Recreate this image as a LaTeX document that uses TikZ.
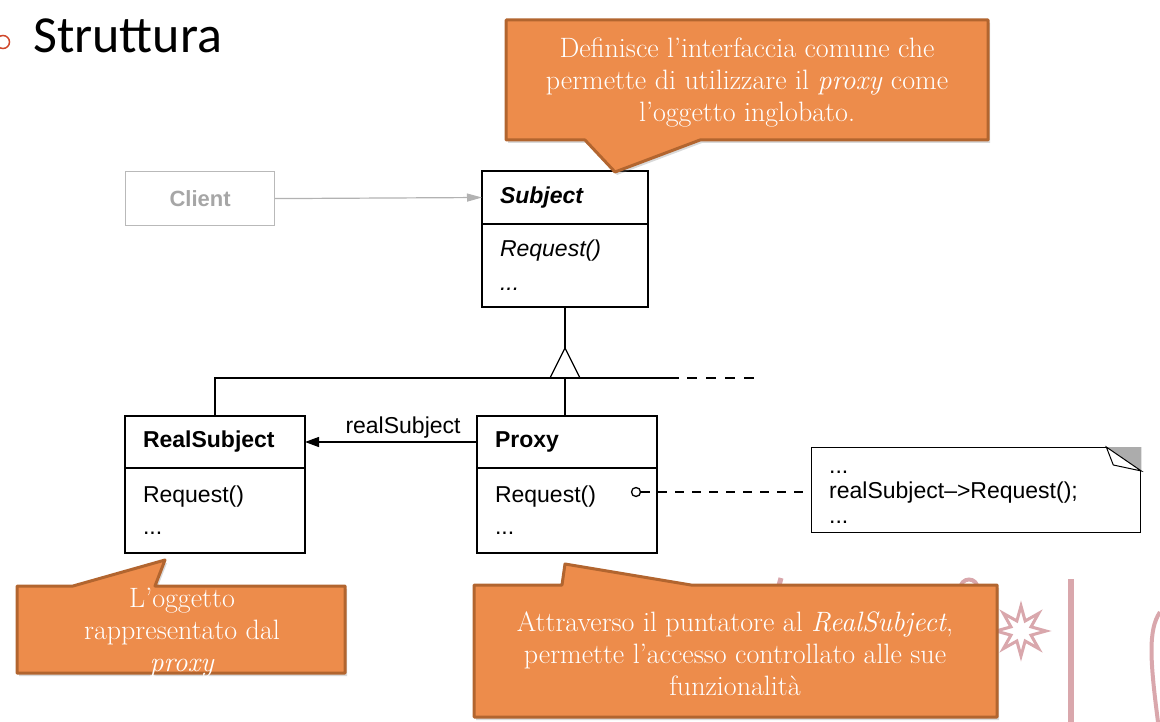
\documentclass[tikz,border=0pt]{standalone}
\usepackage{fontspec}
\newfontfamily\umlfont{Liberation Sans}
\newfontfamily\titlefont{Carlito}
\usetikzlibrary{calc,arrows.meta,shadows,shapes.geometric}
\definecolor{callorange}{HTML}{ED8C4B}
\definecolor{callborder}{HTML}{B2652F}
\definecolor{deco}{HTML}{D9A7AC}
\definecolor{bullet}{HTML}{D0462A}

\begin{document}
\begin{tikzpicture}[x=1pt,y=-1pt]
       \tikzstyle{umlline} = [line width=1.3pt];
       \tikzstyle{classhead} = [draw, umlline, anchor=north west, outer sep=0pt, inner xsep=18pt, align=left, minimum height=53pt, font=\umlfont\fontsize{23}{32}\selectfont\bfseries];
       \tikzstyle{classbody} = [draw, umlline, anchor=north west, outer sep=0pt, inner xsep=18pt, align=left, font=\umlfont\fontsize{23}{32}\selectfont];
       \tikzstyle{callout} = [fill=callorange, draw=callborder, line width=3pt, line join=round, drop shadow={shadow xshift=2pt, shadow yshift=-3pt, opacity=.3}];
       \tikzstyle{callouttext} = [text=white, align=center, font=\fontsize{28}{32}\selectfont];
       \useasboundingbox (0,0) rectangle (1160,722);

       % title
       \node[circle, draw=bullet, line width=1.5pt, minimum size=13pt, inner sep=0pt] (dot) at (3,42) {};
       \node[anchor=base west, inner sep=0pt, font=\titlefont\fontsize{52}{60}\selectfont] (title) at (33,53) {Struttura};

       % background marks
       \draw[deco, line width=6pt] (1071,579) -- (1071,722);
       \draw[deco, line width=4pt] (960,590) .. controls (960,576) and (978,576) .. (978,590);
       \draw[deco, line width=5pt] (781,578) -- (775,600);
       \draw[deco, line width=4pt] (1160,612) .. controls (1148,630) and (1150,660) .. (1158,722);
       \node[star, star points=8, star point ratio=2.3, minimum size=50pt, inner sep=0pt, draw=deco, line width=3pt, fill=white] (spark) at (1021,631) {};

       % classes
       \node[draw=gray!55, line width=1.2pt, anchor=north west, minimum width=149pt, minimum height=54pt, text=gray!70, font=\umlfont\fontsize{22}{26}\selectfont\bfseries] (client) at (125,171) {Client};
       \node[classhead, text width=130pt] (subject) at (482,171) {\itshape Subject};
       \node[classbody, text width=130pt, minimum height=83pt] (subjectbody) at (subject.south west) {\itshape Request()\\[2pt]...};
       \node[classhead, text width=144pt, minimum height=52pt] (realsubject) at (125,416) {RealSubject};
       \node[classbody, text width=144pt, minimum height=85pt] (realbody) at (realsubject.south west) {Request()\\...};
       \node[classhead, text width=144pt, minimum height=52pt] (proxy) at (477,416) {Proxy};
       \node[classbody, text width=144pt, minimum height=85pt] (proxybody) at (proxy.south west) {Request()\\...};
       \node[draw, umlline, anchor=north west, minimum width=329pt, minimum height=85pt] (note) at (811,447) {};
       \node[anchor=west, inner xsep=18pt, align=left, font=\umlfont\fontsize{23}{25}\selectfont] (notetext) at ($(note.west)+(0,7)$) {...\\realSubject–>Request();\\...};
       \fill[gray!65] ($(note.north east)+(-35,0)$) -- (note.north east) -- ($(note.north east)+(0,24)$) -- cycle;
       \filldraw[fill=white, line width=1pt] ($(note.north east)+(-35,0)$) -- ($(note.north east)+(-28,18)$) -- ($(note.north east)+(0,24)$) -- cycle;

       % connectors
       \coordinate (apex) at (565,348);
       \coordinate (hub) at (565,378);
       \draw[gray!60, line width=1.2pt, -{Triangle[length=15pt,width=8pt]}] (client.east) -- (subject.west);
       \draw[umlline] (subjectbody.south) -- (apex);
       \draw[umlline, line join=miter] (apex) -- ++(-15,30) -- ++(30,0) -- cycle;
       \draw[umlline] (realsubject.north) |- ($(hub)+(114,0)$);
       \draw[umlline] (hub) -- (hub |- proxy.north);
       \draw[umlline, dash pattern=on 10pt off 9pt] ($(hub)+(122,0)$) -- ($(hub)+(195,0)$);
       \draw[umlline, -{Triangle[length=14pt,width=10pt]}] (proxy.west) -- node[pos=0.43, above, font=\umlfont\fontsize{23}{26}\selectfont] {realSubject} (realsubject.east);
       \node[circle, draw, umlline, inner sep=0pt, minimum size=9pt] (hook) at (636,492) {};
       \draw[umlline, dash pattern=on 9pt off 8pt] (hook.east) -- (hook -| note.west);

       % callouts
       \draw[callout] (506,20) -- (988,20) -- (988,140) -- (700,140) -- (615,172) -- (585,140) -- (506,140) -- cycle;
       \draw[callout] (17,586) -- (73,586) -- (165,560) -- (155,586) -- (345,586) -- (345,673) -- (17,673) -- cycle;
       \draw[callout] (474,585) -- (562,585) -- (565,564) -- (691,585) -- (997,585) -- (997,717) -- (474,717) -- cycle;
       \node[callouttext] (interface) at (747,83) {Definisce l’interfaccia comune che\\permette di utilizzare il \textit{proxy} come\\l’oggetto inglobato.};
       \node[callouttext] (represented) at (182,633) {L’oggetto\\rappresentato dal\\\textit{proxy}};
       \node[callouttext] (pointer) at (735,654) {Attraverso il puntatore al \textit{RealSubject},\\permette l’accesso controllato alle sue\\funzionalità};
     \end{tikzpicture}
\end{document}
